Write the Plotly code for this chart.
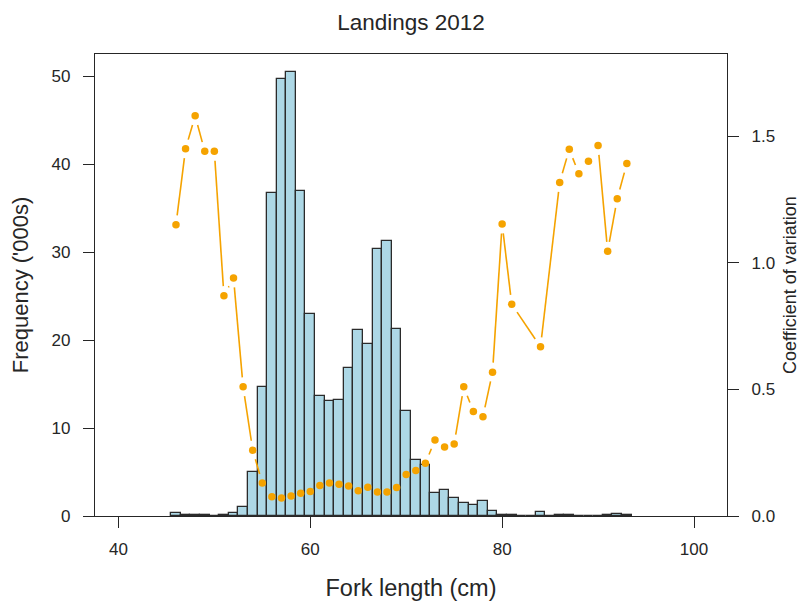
import plotly.graph_objects as go

# Landings 2012: length-frequency (thousands of fish) and CV by fork length
lengths = list(range(46, 94))
frequency = [
    0.35, 0.10, 0.10, 0.10, 0.03, 0.15, 0.30, 1.00,   # 46-53
    5.0, 14.7, 36.7, 49.7, 50.5, 36.9, 22.9, 13.6,    # 54-61
    13.1, 13.2, 16.8, 21.1, 19.6, 30.3, 31.3, 21.2,   # 62-69
    11.9, 6.4, 5.8, 2.65, 2.9, 2.1, 1.45, 1.25,       # 70-77
    1.65, 0.55, 0.12, 0.10, 0.0, 0.0, 0.50, 0.0,      # 78-85
    0.10, 0.10, 0.05, 0.05, 0.05, 0.12, 0.18, 0.10,   # 86-93
]

cv_lengths = list(range(46, 82)) + [84] + list(range(86, 94))
cv_values = [
    1.15, 1.45, 1.58, 1.44, 1.44, 0.87, 0.94, 0.51,   # 46-53
    0.26, 0.13, 0.076, 0.071, 0.079, 0.09, 0.097, 0.12,  # 54-61
    0.13, 0.125, 0.118, 0.10, 0.114, 0.095, 0.095, 0.113,  # 62-69
    0.164, 0.18, 0.208, 0.30, 0.272, 0.284, 0.51, 0.413,   # 70-77
    0.392, 0.568, 1.153, 0.836,                           # 78-81
    0.668,                                                # 84
    1.317, 1.448, 1.351, 1.401, 1.463, 1.045, 1.253, 1.392,  # 86-93
]

x_ticks = [40, 60, 80, 100]
y_ticks = [0, 10, 20, 30, 40, 50]
cv_ticks = [0.0, 0.5, 1.0, 1.5]
cv_tick_text = ["0.0", "0.5", "1.0", "1.5"]

# plot geometry
W, H = 800, 605
ML, MR, MT, MB = 95, 73, 54, 89
XR = [37.56, 103.44]
YR = [0, 52.5]
Y2R = [0, 1.824]
pw, ph = W - ML - MR, H - MT - MB

# 'both' style line: segments stop short of each point
gap = 9.5
sx = pw / (XR[1] - XR[0])
sy = ph / (Y2R[1] - Y2R[0])
seg_x, seg_y = [], []
for i in range(len(cv_lengths) - 1):
    x0, y0 = cv_lengths[i], cv_values[i]
    x1, y1 = cv_lengths[i + 1], cv_values[i + 1]
    dx, dy = (x1 - x0) * sx, (y1 - y0) * sy
    d = (dx * dx + dy * dy) ** 0.5
    if d <= 2 * gap:
        continue
    ux, uy = dx / d, dy / d
    seg_x += [x0 + gap * ux / sx, x1 - gap * ux / sx, None]
    seg_y += [y0 + gap * uy / sy, y1 - gap * uy / sy, None]

ink = "#262626"
font = "Liberation Sans, Arial, sans-serif"

fig = go.Figure()
fig.add_trace(go.Bar(
    x=lengths, y=frequency, width=1,
    marker=dict(color="#ADD8E6", line=dict(color="#2b2b2b", width=1.3)),
    yaxis="y", showlegend=False, hoverinfo="x+y",
))
fig.add_trace(go.Scatter(
    x=seg_x, y=seg_y, mode="lines",
    line=dict(color="#F5A300", width=1.6),
    yaxis="y2", showlegend=False, hoverinfo="skip",
))
fig.add_trace(go.Scatter(
    x=cv_lengths, y=cv_values, mode="markers",
    marker=dict(color="#F5A300", size=7.5),
    yaxis="y2", showlegend=False,
))

axis_common = dict(
    showgrid=False, zeroline=False, showline=True, linecolor=ink,
    linewidth=1.2, ticks="outside", ticklen=11, tickwidth=1.2,
    tickcolor=ink, tickfont=dict(family=font, size=17, color=ink),
    automargin=False,
)

fig.update_layout(
    width=W, height=H,
    margin=dict(l=ML, r=MR, t=MT, b=MB),
    paper_bgcolor="white", plot_bgcolor="white",
    font=dict(family=font, color=ink),
    bargap=0,
    title=dict(text="Landings 2012", x=0.5, xref="paper", xanchor="center",
               y=1 - 22 / H, yanchor="middle",
               font=dict(family=font, size=22.5, color=ink)),
    xaxis=dict(
        **axis_common, range=XR, tickvals=x_ticks, mirror=True,
        ticklabelstandoff=6,
        title=dict(text="Fork length (cm)", standoff=22,
                   font=dict(family=font, size=23.5, color=ink)),
    ),
    yaxis=dict(
        **axis_common, range=YR, tickvals=y_ticks, mirror=True,
        ticklabelstandoff=9,
        title=dict(text="Frequency ('000s)", standoff=16,
                   font=dict(family=font, size=22, color=ink)),
    ),
    yaxis2=dict(
        **axis_common, range=Y2R, tickvals=cv_ticks, ticktext=cv_tick_text,
        overlaying="y", side="right", ticklabelstandoff=9,
        title=dict(text="Coefficient of variation", standoff=10,
                   font=dict(family=font, size=18, color=ink)),
    ),
)

fig.write_html("out.html")
